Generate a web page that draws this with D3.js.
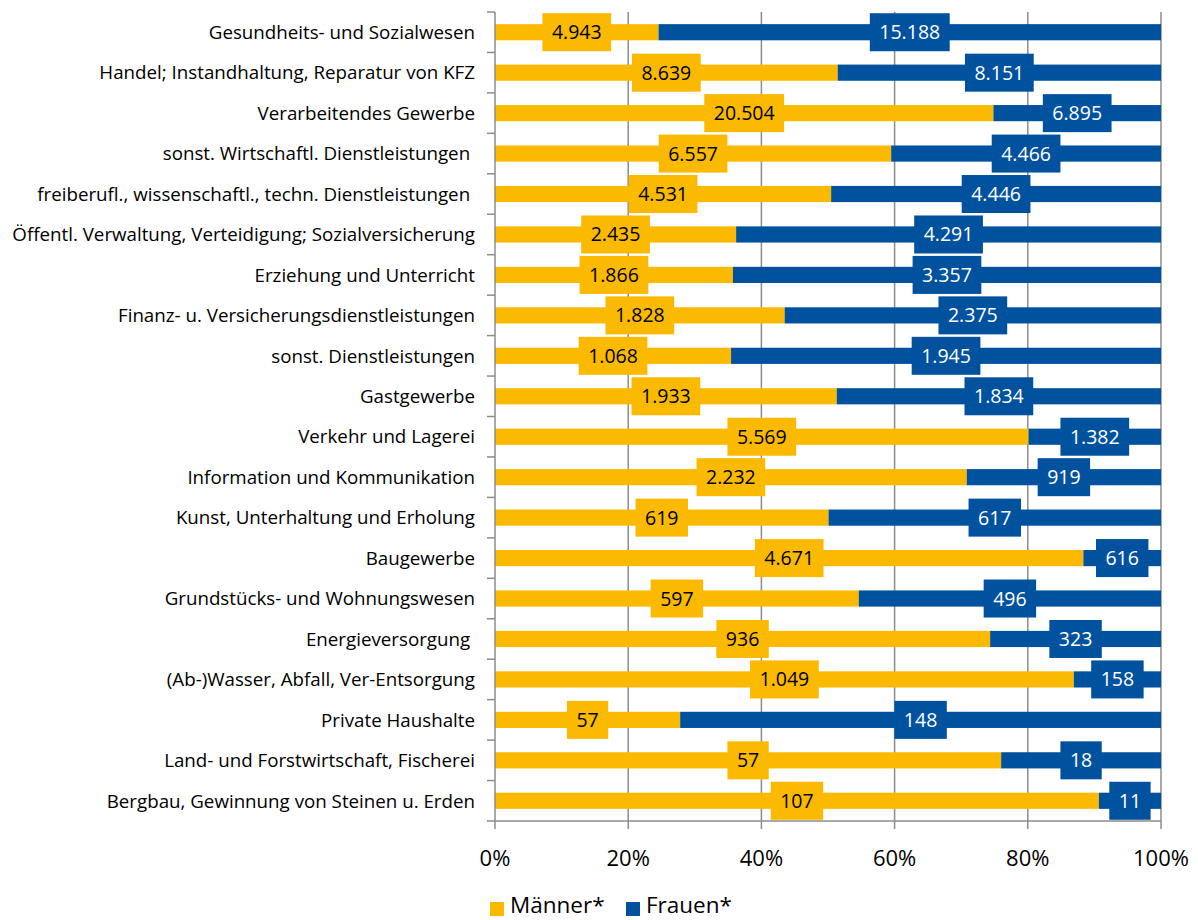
<!DOCTYPE html>
<html><head><meta charset="utf-8">
<script src="https://cdn.jsdelivr.net/npm/d3@7"></script>
<style>
body{margin:0;background:#fff;}
svg{display:block;font-family:"Open Sans",Lato,sans-serif;}
</style></head>
<body>
<svg id="chart" width="1198" height="920"></svg>
<script>
const categories = [
  "Gesundheits- und Sozialwesen",
  "Handel; Instandhaltung, Reparatur von KFZ",
  "Verarbeitendes Gewerbe",
  "sonst. Wirtschaftl. Dienstleistungen ",
  "freiberufl., wissenschaftl., techn. Dienstleistungen ",
  "Öffentl. Verwaltung, Verteidigung; Sozialversicherung",
  "Erziehung und Unterricht",
  "Finanz- u. Versicherungsdienstleistungen",
  "sonst. Dienstleistungen",
  "Gastgewerbe",
  "Verkehr und Lagerei",
  "Information und Kommunikation",
  "Kunst, Unterhaltung und Erholung",
  "Baugewerbe",
  "Grundstücks- und Wohnungswesen",
  "Energieversorgung ",
  "(Ab-)Wasser, Abfall, Ver-Entsorgung",
  "Private Haushalte",
  "Land- und Forstwirtschaft, Fischerei",
  "Bergbau, Gewinnung von Steinen u. Erden"
];
const maenner = [4943, 8639, 20504, 6557, 4531, 2435, 1866, 1828, 1068, 1933, 5569, 2232, 619, 4671, 597, 936, 1049, 57, 57, 107];
const frauen  = [15188, 8151, 6895, 4466, 4446, 4291, 3357, 2375, 1945, 1834, 1382, 919, 617, 616, 496, 323, 158, 148, 18, 11];
const seriesNames = ["Männer*", "Frauen*"];
const tickValues = [0, 0.2, 0.4, 0.6, 0.8, 1.0];

const colors = ["#FBBA00", "#00529F"];
const textColors = ["#000", "#fff"];

const svg = d3.select("#chart");
const margin = {left: 495, right: 37, top: 12, bottom: 99};
const W = 1198, H = 920;
const x = d3.scaleLinear().domain([0, 1]).range([margin.left, W - margin.right]);
const y = d3.scaleBand().domain(categories).range([margin.top, H - margin.bottom]).paddingInner(0.6).paddingOuter(0.3);
const yb = d3.scaleBand().domain(categories).range([margin.top, H - margin.bottom]);

const de = d3.formatLocale({decimal: ",", thousands: ".", grouping: [3], currency: ["", "€"]});
const fmt = de.format(",d");
const pct = d3.format(".0%");

const rows = categories.map((c, i) => {
  const tot = maenner[i] + frauen[i];
  return {cat: c, vals: [maenner[i], frauen[i]], shares: [maenner[i] / tot, frauen[i] / tot]};
});

const gridColor = "#8c8c8c";
svg.append("g").selectAll("line").data(tickValues.slice(1)).join("line")
  .attr("x1", d => x(d)).attr("x2", d => x(d))
  .attr("y1", margin.top).attr("y2", H - margin.bottom)
  .attr("stroke", gridColor).attr("stroke-width", 1.5);

const rowG = svg.append("g").selectAll("g").data(rows).join("g");
rowG.each(function(r) {
  const g = d3.select(this);
  let acc = 0;
  r.shares.forEach((s, k) => {
    g.append("rect")
      .attr("x", x(acc)).attr("width", x(acc + s) - x(acc))
      .attr("y", y(r.cat)).attr("height", y.bandwidth())
      .attr("fill", colors[k]);
    acc += s;
  });
});

const labG = svg.append("g");
rows.forEach(r => {
  let acc = 0;
  r.shares.forEach((s, k) => {
    const cx = x(acc + s / 2);
    const cy = yb(r.cat) + yb.bandwidth() / 2;
    const g = labG.append("g");
    const rect = g.append("rect").attr("fill", colors[k]);
    const t = g.append("text").attr("x", cx).attr("y", cy).attr("dy", "0.36em")
      .attr("text-anchor", "middle").attr("font-size", 19.5).attr("fill", textColors[k])
      .text(fmt(r.vals[k]));
    const tw = t.node().getComputedTextLength();
    const bw = tw + 19, bh = 38;
    rect.attr("x", cx - bw / 2).attr("y", cy - bh / 2).attr("width", bw).attr("height", bh);
    acc += s;
  });
});

const yAxis = svg.append("g").attr("transform", `translate(${margin.left},0)`);
yAxis.append("line").attr("x1", 0).attr("x2", 0).attr("y1", margin.top).attr("y2", H - margin.bottom)
  .attr("stroke", gridColor).attr("stroke-width", 1.5);
yAxis.selectAll("line.tk").data(d3.range(categories.length + 1)).join("line").attr("class", "tk")
  .attr("x1", -8).attr("x2", 0)
  .attr("y1", i => margin.top + i * yb.step()).attr("y2", i => margin.top + i * yb.step())
  .attr("stroke", gridColor).attr("stroke-width", 1.5);
const catLabels = yAxis.selectAll("text").data(categories).join("text")
  .attr("x", -20).attr("y", d => yb(d) + yb.bandwidth() / 2).attr("dy", "0.36em")
  .attr("text-anchor", "end").attr("font-size", 16).attr("fill", "#000")
  .style("white-space", "pre")
  .text(d => d);
const longest = d3.max(catLabels.nodes(), n => n.getComputedTextLength());
catLabels.attr("font-size", 16 * 463 / longest);

const xAxis = svg.append("g").attr("transform", `translate(0,${H - margin.bottom})`);
xAxis.append("line").attr("x1", margin.left).attr("x2", W - margin.right).attr("y1", 0).attr("y2", 0)
  .attr("stroke", gridColor).attr("stroke-width", 1.5);
xAxis.selectAll("line.tk").data(tickValues).join("line").attr("class", "tk")
  .attr("x1", d => x(d)).attr("x2", d => x(d)).attr("y1", 0).attr("y2", 8)
  .attr("stroke", gridColor).attr("stroke-width", 1.5);
xAxis.selectAll("text").data(tickValues).join("text")
  .attr("x", d => x(d)).attr("y", 37).attr("dy", "0.36em")
  .attr("text-anchor", "middle").attr("font-size", 22).attr("fill", "#000")
  .text(d => pct(d));

const leg = svg.append("g");
const legX = [490, 626];
seriesNames.forEach((n, k) => {
  leg.append("rect").attr("x", legX[k]).attr("y", 902).attr("width", 14).attr("height", 14).attr("fill", colors[k]);
  leg.append("text").attr("x", legX[k] + 20).attr("y", 913)
    .attr("font-size", 22.5).attr("fill", "#000").text(n);
});
</script>
</body></html>
